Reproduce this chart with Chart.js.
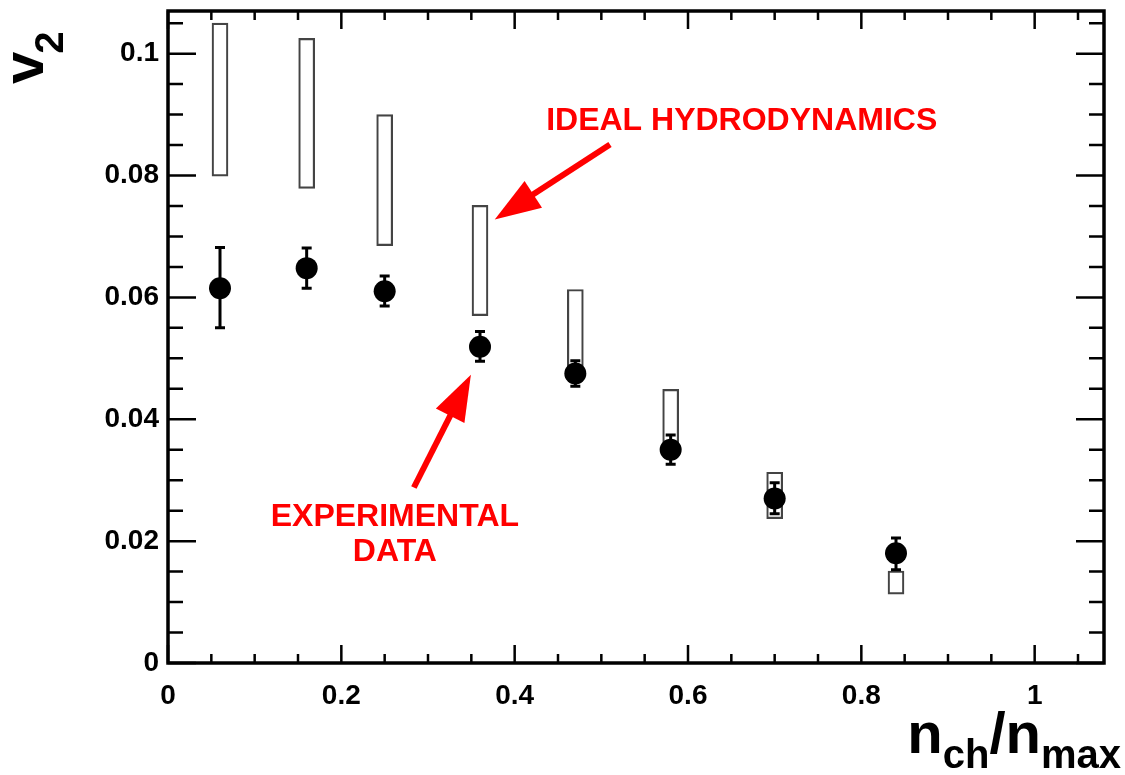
<!DOCTYPE html>
<html>
<head>
<meta charset="utf-8">
<script src="https://cdn.jsdelivr.net/npm/chart.js@4.4.1/dist/chart.umd.min.js"></script>
<style>
  html, body { margin: 0; padding: 0; background: #fff; }
  #wrap { width: 1125px; height: 775px; }
</style>
</head>
<body>
<div id="wrap"><canvas id="c" width="1125" height="775"></canvas></div>
<script>
// values
var nchRatio = [0.06, 0.16, 0.25, 0.36, 0.47, 0.58, 0.70, 0.84];
var v2Exp = [0.0615, 0.0648, 0.0610, 0.0519, 0.0475, 0.0350, 0.0270, 0.0180];
var v2ExpLow = [0.0550, 0.0615, 0.0586, 0.0495, 0.0454, 0.0326, 0.0245, 0.0153];
var v2ExpHigh = [0.0682, 0.0681, 0.0635, 0.0544, 0.0496, 0.0374, 0.0296, 0.0205];
var hydroLow = [0.0799, 0.0779, 0.0685, 0.0570, 0.0480, 0.0360, 0.0237, 0.0113];
var hydroHigh = [0.1050, 0.1025, 0.0900, 0.0751, 0.0613, 0.0449, 0.0313, 0.0151];

var xTicks = [0, 0.2, 0.4, 0.6, 0.8, 1];
var yTicks = [0, 0.02, 0.04, 0.06, 0.08, 0.1];

var FONT = "'Liberation Sans', Arial, Helvetica, sans-serif";
var RED = '#ff0000';

// annotation anchors in data units
var notes = [
    { text: 'IDEAL HYDRODYNAMICS', x: 0.662, y: 0.0889 },
    { text: 'EXPERIMENTAL', x: 0.2618, y: 0.0239 },
    { text: 'DATA', x: 0.2618, y: 0.0182 }
];
var arrows = [
    { from: [0.510, 0.0851], to: [0.377, 0.0728] },
    { from: [0.2837, 0.0288], to: [0.3495, 0.0473] }
];

var hydroData = [];
var expData = [];
for (var i = 0; i < nchRatio.length; i++) {
    hydroData.push({ x: nchRatio[i], y: [hydroLow[i], hydroHigh[i]] });
    expData.push({ x: nchRatio[i], y: v2Exp[i] });
}

function drawArrow(ctx, x1, y1, x2, y2) {
    var ang = Math.atan2(y2 - y1, x2 - x1);
    var headLen = 46, headW = 16;
    var bx = x2 - headLen * Math.cos(ang), by = y2 - headLen * Math.sin(ang);
    ctx.save();
    ctx.strokeStyle = RED;
    ctx.fillStyle = RED;
    ctx.lineWidth = 6;
    ctx.beginPath();
    ctx.moveTo(x1, y1);
    ctx.lineTo(bx + 5 * Math.cos(ang), by + 5 * Math.sin(ang));
    ctx.stroke();
    ctx.beginPath();
    ctx.moveTo(x2, y2);
    ctx.lineTo(bx + headW * Math.sin(ang), by - headW * Math.cos(ang));
    ctx.lineTo(bx - headW * Math.sin(ang), by + headW * Math.cos(ang));
    ctx.closePath();
    ctx.fill();
    ctx.restore();
}

var rootStyle = {
    id: 'rootStyle',
    afterDatasetsDraw: function (chart) {
        var ctx = chart.ctx;
        var xs = chart.scales.x, ys = chart.scales.y;
        var a = chart.chartArea;

        // error bars
        ctx.save();
        ctx.strokeStyle = '#000';
        ctx.lineWidth = 3;
        for (var i = 0; i < nchRatio.length; i++) {
            var px = xs.getPixelForValue(nchRatio[i]);
            var lo = ys.getPixelForValue(v2ExpLow[i]);
            var hi = ys.getPixelForValue(v2ExpHigh[i]);
            ctx.beginPath();
            ctx.moveTo(px, lo); ctx.lineTo(px, hi);
            ctx.moveTo(px - 5, lo); ctx.lineTo(px + 5, lo);
            ctx.moveTo(px - 5, hi); ctx.lineTo(px + 5, hi);
            ctx.stroke();
        }
        ctx.restore();

        // frame and inward ticks
        ctx.save();
        ctx.strokeStyle = '#000';
        ctx.lineWidth = 2.5;
        ctx.beginPath();
        var v, p, len;
        for (var k = 0; k <= 21; k++) {
            v = k * 0.05;
            p = xs.getPixelForValue(v);
            len = (k % 4 === 0) ? 18 : 9;
            ctx.moveTo(p, a.bottom); ctx.lineTo(p, a.bottom - len);
            ctx.moveTo(p, a.top); ctx.lineTo(p, a.top + len);
        }
        for (var m = 0; m <= 21; m++) {
            v = m * 0.005;
            p = ys.getPixelForValue(v);
            len = (m % 4 === 0) ? 28 : 15;
            ctx.moveTo(a.left, p); ctx.lineTo(a.left + len, p);
            ctx.moveTo(a.right, p); ctx.lineTo(a.right - len, p);
        }
        ctx.stroke();
        ctx.lineWidth = 3.5;
        ctx.strokeRect(a.left, a.top, a.right - a.left, a.bottom - a.top);
        ctx.restore();

        // red annotations
        ctx.save();
        ctx.fillStyle = RED;
        ctx.font = 'bold 32px ' + FONT;
        ctx.textAlign = 'center';
        ctx.textBaseline = 'middle';
        notes.forEach(function (n) {
            ctx.fillText(n.text, xs.getPixelForValue(n.x), ys.getPixelForValue(n.y));
        });
        ctx.restore();
        arrows.forEach(function (ar) {
            drawArrow(ctx,
                xs.getPixelForValue(ar.from[0]), ys.getPixelForValue(ar.from[1]),
                xs.getPixelForValue(ar.to[0]), ys.getPixelForValue(ar.to[1]));
        });

        // axis titles with subscripts
        ctx.save();
        ctx.fillStyle = '#000';
        ctx.textBaseline = 'alphabetic';
        ctx.textAlign = 'left';
        var big = 'bold 58px ' + FONT, small = 'bold 40px ' + FONT;
        var parts = [['n', big, 0], ['ch', small, 15], ['/', big, 0], ['n', big, 0], ['max', small, 15]];
        var total = 0;
        parts.forEach(function (pt) { ctx.font = pt[1]; total += ctx.measureText(pt[0]).width; });
        var cx = 1121 - total;
        parts.forEach(function (pt) {
            ctx.font = pt[1];
            ctx.fillText(pt[0], cx, 753 + pt[2]);
            cx += ctx.measureText(pt[0]).width;
        });
        ctx.translate(43, 84);
        ctx.rotate(-Math.PI / 2);
        ctx.font = big;
        ctx.fillText('v', 0, 0);
        var vw = ctx.measureText('v').width;
        ctx.font = small;
        ctx.fillText('2', vw - 2, 20);
        ctx.restore();
    }
};

new Chart(document.getElementById('c'), {
    data: {
        datasets: [
            {
                type: 'bar',
                label: 'ideal hydrodynamics',
                data: hydroData,
                backgroundColor: 'rgba(255,255,255,0)',
                borderColor: '#444',
                borderWidth: 1.5,
                borderSkipped: false,
                barThickness: 16,
                order: 2
            },
            {
                type: 'scatter',
                label: 'experimental data',
                data: expData,
                pointRadius: 11,
                pointBackgroundColor: '#000',
                pointBorderColor: '#000',
                pointBorderWidth: 0,
                order: 1
            }
        ]
    },
    options: {
        responsive: false,
        animation: false,
        events: [],
        layout: { padding: { top: 9, right: 21, left: 0, bottom: 0 } },
        plugins: { legend: { display: false }, tooltip: { enabled: false } },
        scales: {
            x: {
                type: 'linear',
                min: 0,
                max: 1.08,
                offset: false,
                grid: { display: false, drawTicks: false },
                border: { display: false },
                afterFit: function (s) { s.height = 112; s.paddingLeft = 0; s.paddingRight = 0; },
                afterBuildTicks: function (s) { s.ticks = xTicks.map(function (t) { return { value: t }; }); },
                ticks: {
                    padding: 16,
                    color: '#000',
                    font: { family: FONT, size: 28, weight: 'bold' },
                    callback: function (v) { return String(v); }
                }
            },
            y: {
                type: 'linear',
                min: 0,
                max: 0.107,
                grid: { display: false, drawTicks: false },
                border: { display: false },
                afterFit: function (s) { s.width = 168; s.paddingTop = 0; s.paddingBottom = 0; },
                afterBuildTicks: function (s) { s.ticks = yTicks.map(function (t) { return { value: t }; }); },
                ticks: {
                    padding: 9,
                    color: '#000',
                    font: { family: FONT, size: 28, weight: 'bold' },
                    callback: function (v) { return String(v); }
                }
            }
        }
    },
    plugins: [rootStyle]
});
</script>
</body>
</html>
